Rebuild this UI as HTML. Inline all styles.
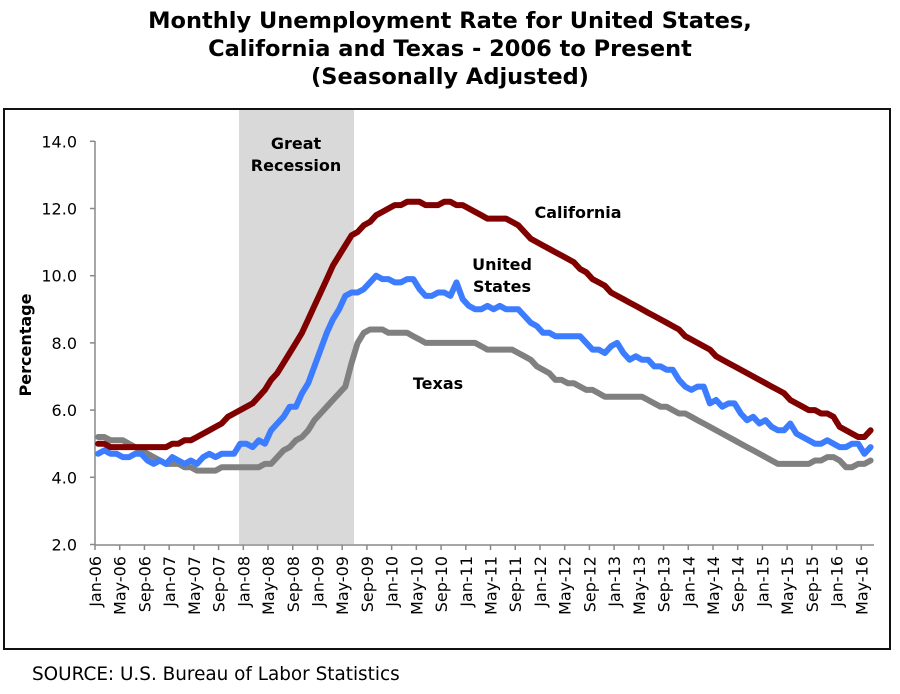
<!DOCTYPE html>
<html><head><meta charset="utf-8"><style>
html,body{margin:0;padding:0;background:#fff;}
svg{display:block;font-family:"DejaVu Sans","Liberation Sans",sans-serif;}
</style></head><body>
<svg id="s" width="900" height="694" viewBox="0 0 900 694" xmlns="http://www.w3.org/2000/svg">
<text x="450" y="28" text-anchor="middle" font-size="22.5" font-weight="bold">Monthly Unemployment Rate for United States,</text>
<text x="450" y="56" text-anchor="middle" font-size="22.5" font-weight="bold">California and Texas - 2006 to Present</text>
<text x="450" y="84" text-anchor="middle" font-size="22.5" font-weight="bold">(Seasonally Adjusted)</text>
<rect x="4" y="109" width="886" height="540" fill="#fff" stroke="#111" stroke-width="2"/>
<rect x="239" y="110" width="115" height="434" fill="#d9d9d9"/>
<text x="296" y="149" text-anchor="middle" font-size="16" font-weight="bold">Great</text>
<text x="296" y="171" text-anchor="middle" font-size="16" font-weight="bold">Recession</text>
<g id="g"></g>
<text x="578" y="218" text-anchor="middle" font-size="16" font-weight="bold">California</text>
<text x="502" y="270" text-anchor="middle" font-size="16" font-weight="bold">United</text>
<text x="502" y="292" text-anchor="middle" font-size="16" font-weight="bold">States</text>
<text x="438" y="389" text-anchor="middle" font-size="16" font-weight="bold">Texas</text>
<text transform="translate(31,345) rotate(-90)" text-anchor="middle" font-size="16" font-weight="bold">Percentage</text>
<text x="32" y="680" font-size="18.4">SOURCE: U.S. Bureau of Labor Statistics</text>
</svg>
<script>
var us=[4.7,4.8,4.7,4.7,4.6,4.6,4.7,4.7,4.5,4.4,4.5,4.4,4.6,4.5,4.4,4.5,4.4,4.6,4.7,4.6,4.7,4.7,4.7,5.0,5.0,4.9,5.1,5.0,5.4,5.6,5.8,6.1,6.1,6.5,6.8,7.3,7.8,8.3,8.7,9.0,9.4,9.5,9.5,9.6,9.8,10.0,9.9,9.9,9.8,9.8,9.9,9.9,9.6,9.4,9.4,9.5,9.5,9.4,9.8,9.3,9.1,9.0,9.0,9.1,9.0,9.1,9.0,9.0,9.0,8.8,8.6,8.5,8.3,8.3,8.2,8.2,8.2,8.2,8.2,8.0,7.8,7.8,7.7,7.9,8.0,7.7,7.5,7.6,7.5,7.5,7.3,7.3,7.2,7.2,6.9,6.7,6.6,6.7,6.7,6.2,6.3,6.1,6.2,6.2,5.9,5.7,5.8,5.6,5.7,5.5,5.4,5.4,5.6,5.3,5.2,5.1,5.0,5.0,5.1,5.0,4.9,4.9,5.0,5.0,4.7,4.9];
var ca=[5.0,5.0,4.9,4.9,4.9,4.9,4.9,4.9,4.9,4.9,4.9,4.9,5.0,5.0,5.1,5.1,5.2,5.3,5.4,5.5,5.6,5.8,5.9,6.0,6.1,6.2,6.4,6.6,6.9,7.1,7.4,7.7,8.0,8.3,8.7,9.1,9.5,9.9,10.3,10.6,10.9,11.2,11.3,11.5,11.6,11.8,11.9,12.0,12.1,12.1,12.2,12.2,12.2,12.1,12.1,12.1,12.2,12.2,12.1,12.1,12.0,11.9,11.8,11.7,11.7,11.7,11.7,11.6,11.5,11.3,11.1,11.0,10.9,10.8,10.7,10.6,10.5,10.4,10.2,10.1,9.9,9.8,9.7,9.5,9.4,9.3,9.2,9.1,9.0,8.9,8.8,8.7,8.6,8.5,8.4,8.2,8.1,8.0,7.9,7.8,7.6,7.5,7.4,7.3,7.2,7.1,7.0,6.9,6.8,6.7,6.6,6.5,6.3,6.2,6.1,6.0,6.0,5.9,5.9,5.8,5.5,5.4,5.3,5.2,5.2,5.4];
var tx=[5.2,5.2,5.1,5.1,5.1,5.0,4.9,4.8,4.7,4.6,4.5,4.4,4.4,4.4,4.3,4.3,4.2,4.2,4.2,4.2,4.3,4.3,4.3,4.3,4.3,4.3,4.3,4.4,4.4,4.6,4.8,4.9,5.1,5.2,5.4,5.7,5.9,6.1,6.3,6.5,6.7,7.4,8.0,8.3,8.4,8.4,8.4,8.3,8.3,8.3,8.3,8.2,8.1,8.0,8.0,8.0,8.0,8.0,8.0,8.0,8.0,8.0,7.9,7.8,7.8,7.8,7.8,7.8,7.7,7.6,7.5,7.3,7.2,7.1,6.9,6.9,6.8,6.8,6.7,6.6,6.6,6.5,6.4,6.4,6.4,6.4,6.4,6.4,6.4,6.3,6.2,6.1,6.1,6.0,5.9,5.9,5.8,5.7,5.6,5.5,5.4,5.3,5.2,5.1,5.0,4.9,4.8,4.7,4.6,4.5,4.4,4.4,4.4,4.4,4.4,4.4,4.5,4.5,4.6,4.6,4.5,4.3,4.3,4.4,4.4,4.5];
var X=function(m){return 95+3.09+6.18*m}, Y=function(v){return 544.5-(v-2)*33.6};
var h='';
h+='<line x1="95" y1="141" x2="95" y2="545" stroke="#888" stroke-width="1.5"/>';
h+='<line x1="95" y1="545" x2="874" y2="545" stroke="#888" stroke-width="1.5"/>';
for(var v=2;v<=14;v+=2){var y=Y(v);h+='<line x1="90" y1="'+y+'" x2="95" y2="'+y+'" stroke="#888" stroke-width="1.5"/>';
h+='<text x="77" y="'+(y+6)+'" text-anchor="end" font-size="16">'+v.toFixed(1)+'</text>';}
var mn=['Jan','May','Sep'];
for(var m=0;m<=124;m+=4){var x=95+6.18*m;h+='<line x1="'+x+'" y1="545" x2="'+x+'" y2="550" stroke="#888" stroke-width="1.5"/>';
var yr=6+Math.floor(m/12);var lab=mn[(m%12)/4]+'-'+(yr<10?'0':'')+yr;
h+='<text transform="translate('+(x+6)+',556) rotate(-90)" text-anchor="end" font-size="16">'+lab+'</text>';}
function pl(d,c){var p=d.map(function(v,i){return X(i).toFixed(1)+','+Y(v).toFixed(1)}).join(' ');
return '<polyline points="'+p+'" fill="none" stroke="'+c+'" stroke-width="6" stroke-linejoin="round" stroke-linecap="round"/>';}
h+=pl(tx,'#808080')+pl(us,'#3c7cff')+pl(ca,'#800000');
document.getElementById('g').innerHTML=h;
</script>
</body></html>
